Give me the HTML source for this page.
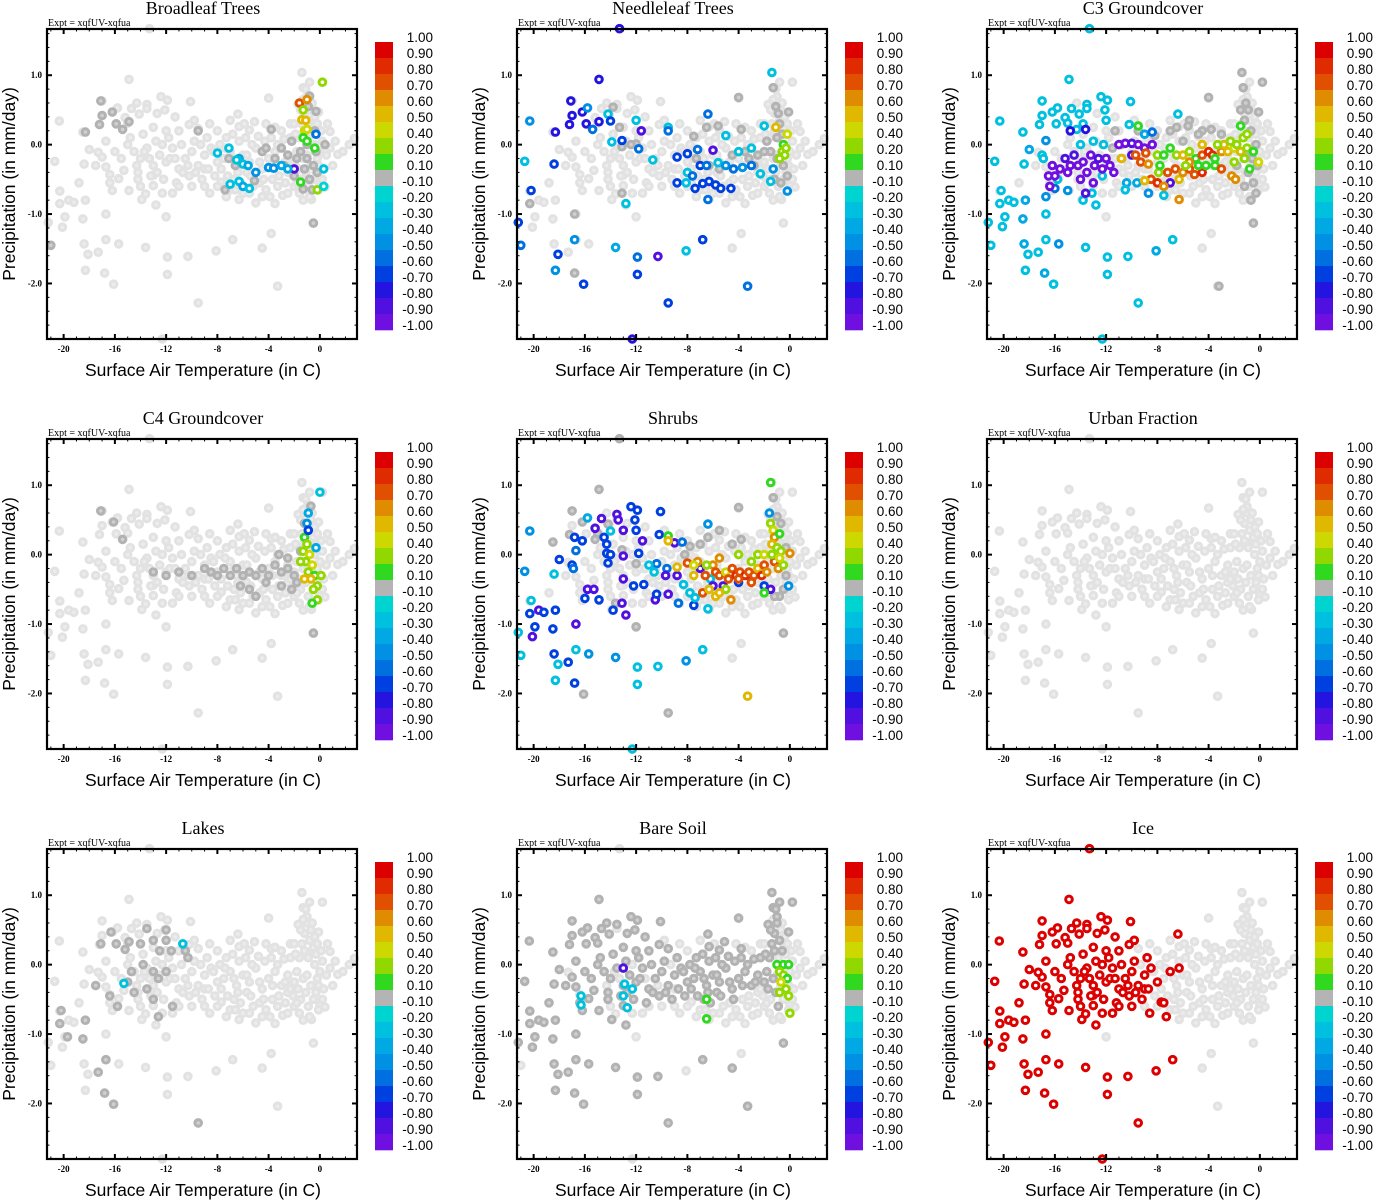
<!DOCTYPE html>
<html><head><meta charset="utf-8">
<style>
html,body{margin:0;padding:0;background:#fff;}
svg{display:block;}
.ttl{font-family:"Liberation Serif",serif;font-size:18px;}
.expt{font-family:"Liberation Serif",serif;font-size:10px;}
.tick{font-family:"Liberation Serif",serif;font-size:9px;font-weight:bold;}
.axt{font-family:"Liberation Sans",sans-serif;font-size:17.5px;}
.cbl{font-family:"Liberation Sans",sans-serif;font-size:13.5px;}
</style></head>
<body>
<svg id="fig" width="1373" height="1200" viewBox="0 0 1373 1200"></svg>
<script>
// ---------------- DATA ----------------
const panelTitles = ["Broadleaf Trees","Needleleaf Trees","C3 Groundcover","C4 Groundcover","Shrubs","Urban Fraction","Lakes","Bare Soil","Ice"];
const xTicks = [-20,-16,-12,-8,-4,0];
const yTicks = [1.0,0.0,-1.0,-2.0];
const yTickLabels = ["1.0","0.0","-1.0","-2.0"];
const cbLabels = ["1.00","0.90","0.80","0.70","0.60","0.50","0.40","0.20","0.10","-0.10","-0.20","-0.30","-0.40","-0.50","-0.60","-0.70","-0.80","-0.90","-1.00"];
const cbEdges = [1.0,0.9,0.8,0.7,0.6,0.5,0.4,0.2,0.1,-0.1,-0.2,-0.3,-0.4,-0.5,-0.6,-0.7,-0.8,-0.9,-1.0];
const cbColors = ["#dc0000","#e02a00","#e05000","#e08c00","#e0b800","#ccd800","#90d800","#30d820","#b4b4b4","#00d4d0","#00c0e0","#00a8e4","#0090e4","#0070e0","#0040e0","#2414e0","#5010e0","#7010e0"];

// base cloud (temperature, precipitation)
const baseCloud = [
[-20.34,0.34],[-20.7,-0.24],[-18.0,-0.07],[-18.5,0.18],[-18.4,-0.28],[-20.3,-0.67],[-20.3,-0.85],[-20.1,-1.19],[-19.9,-1.04],[-19.6,-0.8],[-19.2,-0.83],[-18.3,-0.8],[-18.5,-1.07],[-21.2,-1.12],[-21.0,-1.45],[-18.4,-1.43],[-18.1,-1.58],[-18.3,-1.81],[-17.3,-1.55],[-16.7,-1.37],[-16.7,-1.0],[-15.7,-1.43],[-16.8,-1.85],[-16.1,-2.01],[-13.6,-1.48],[-11.9,-1.62],[-11.9,-1.87],[-12.0,-1.04],[-10.3,-1.61],[-9.5,-2.28],[-8.1,-1.53],[-6.8,-1.37],[-4.5,-1.49],[-3.8,-1.28],[-3.3,-2.04],[-0.5,-1.13],[-13.3,1.67],[-12.3,-2.8],[-14.9,0.94],[-1.4,1.04],[0.2,0.9],[-1.3,0.82],[-17.0,0.63],[-17.0,0.42],[-17.2,0.29],[-16.2,0.47],[-15.8,0.53],[-15.9,0.3],[-14.7,0.52],[-15.2,0.39],[-15.0,0.31],[-14.1,0.44],[-13.5,0.58],[-13.5,0.52],[-12.4,0.69],[-11.9,0.64],[-12.1,0.5],[-10.1,0.62],[-10.2,0.29],[-9.5,0.23],[-6.4,0.44],[-6.3,0.26],[-5.5,0.21],[-5.1,0.33],[-4.0,0.67],[-3.8,0.23],[-1.7,0.58],[-1.0,0.69],[-0.1,0.47],[0.8,0.19],[1.4,-0.14],[2.3,0.0],[2.7,0.09],[0.0,-0.59],[0.4,-0.61],[-0.65,-0.79],[-3.5,-0.85],[-5.0,-0.84],[-2.9,-0.73],[-8.6,-0.7],[-7.3,-0.75],[-6.3,-0.79],[-7.7,-0.54],[-11.5,-0.7],[-12.3,-0.7],[-12.8,-0.87],[-13.9,-0.79],[-14.9,-0.66],[-13.6,-0.71],[-16.2,-0.66],[-16.4,-0.55],[-16.7,-0.32],[-17.0,-0.18],[-17.3,-0.11],[-16.7,0.05],[-16.4,-0.43],[-15.7,-0.49],[-15.3,-0.37],[-14.2,-0.5],[-13.0,-0.59],[-13.0,-0.44],
[-14.5,-0.1],[-14.0,-0.2],[-13.5,-0.05],[-13.0,-0.3],[-12.5,-0.15],[-12.0,-0.25],[-11.5,-0.05],[-11.0,-0.35],[-10.5,-0.2],[-10.0,-0.1],[-9.5,-0.3],[-9.0,-0.15],[-8.5,-0.05],[-8.0,-0.25],[-14.2,-0.4],[-13.2,-0.45],[-12.2,-0.5],[-11.2,-0.55],[-10.2,-0.45],[-9.2,-0.5],[-8.2,-0.45],[-14.8,0.1],[-13.8,0.15],[-12.8,0.05],[-11.8,0.1],[-10.8,0.0],[-9.8,0.05],[-8.8,0.1],[-7.8,0.0],
[-7.5,-0.2],[-7.0,-0.1],[-6.5,-0.3],[-6.0,-0.15],[-5.5,-0.25],[-5.0,-0.05],[-4.5,-0.35],[-4.0,-0.2],[-3.5,-0.1],[-3.0,-0.3],[-2.5,-0.15],[-2.0,-0.25],[-7.2,-0.45],[-6.7,-0.5],[-6.2,-0.55],[-5.7,-0.4],[-5.2,-0.6],[-4.7,-0.55],[-4.2,-0.65],[-3.7,-0.5],[-3.2,-0.45],[-2.7,-0.55],[-7.3,0.1],[-6.8,0.15],[-6.3,0.05],[-5.8,0.1],[-5.3,0.0],[-4.8,0.12],[-4.3,0.05],[-3.8,0.1],[-3.3,0.0],[-2.8,0.08],[-2.3,0.1],
[-1.8,-0.1],[-1.6,0.1],[-1.4,0.3],[-1.2,0.45],[-1.0,0.6],[-0.8,0.35],[-0.6,0.2],[-0.4,0.0],[-0.2,-0.2],[0.0,-0.1],[0.2,0.05],[-1.7,-0.35],[-1.5,-0.5],[-1.3,-0.2],[-1.1,-0.4],[-0.9,-0.6],[-0.7,-0.3],[-0.5,-0.5],[-0.3,-0.4],[-0.1,-0.3],[0.3,-0.35],[-1.5,0.5],[-1.2,0.2],[-0.9,0.1],[-0.7,0.5],[-0.5,0.25],[-1.9,0.15],[-2.1,-0.45],[0.5,-0.15],[0.8,-0.05],[-0.3,0.15],[-1.0,-0.15],
[-15.5,-0.2],[-15.0,0.0],[-14.0,-0.6],[-11.0,-0.6],[-10.0,-0.6],[-9.0,-0.35],[-9.0,-0.6],[-7.0,-0.65],[-6.0,-0.7],[-4.5,-0.75],[-2.5,-0.4],[-2.0,-0.6],[-3.0,0.2],[-8.0,0.2],[-11.0,0.2],[-12.0,0.2],[-13.0,0.25],[-16.0,-0.1],[-17.5,-0.3],[-18.8,-0.55],[1.0,-0.3],[-1.6,-0.7],[-2.3,0.3],
[-9.7,-0.4],[-10.7,-0.4],[-11.7,-0.2],[-12.7,-0.4],[-13.7,-0.1],[-8.7,-0.35],[-7.7,-0.35],[-6.7,-0.2],[-5.7,-0.15],[-4.7,-0.25],[-3.7,-0.3],[-2.7,-0.25],[-1.8,-0.55],[-2.3,-0.35],[-3.3,-0.6],[-4.4,-0.5],[-5.4,-0.45],[-6.4,-0.4],[-7.4,-0.05],[-8.3,-0.1],[-9.3,0.0],[-10.3,-0.3],[-11.3,-0.2],[-12.3,0.0],[-13.3,-0.2],[-14.3,-0.3],[-0.8,0.9],[-1.1,0.8],[-0.6,0.6],[-1.3,0.65],[-0.4,0.4],[-0.2,0.3],[0.1,0.2],[0.2,-0.5],[-0.1,-0.65],[-0.8,-0.75],[-1.3,-0.8],[-2.5,-0.7],[-3.9,-0.75],[-5.5,-0.7],[-6.6,-0.65],[-8.0,-0.6],[-2.0,0.3],[-3.5,0.25],[-4.2,0.3],[-5.9,0.3],[-7.0,0.35],[-8.6,0.3],[-9.8,0.35],[-11.3,0.4],[-12.7,0.45],[-14.3,0.6],[1.2,0.05],[1.8,-0.1],[0.6,0.3]
];

// per-panel dark-grey points (value between -0.1 and 0.1)
const greyBroadleaf = [[-18.3,0.18],[-17.1,0.63],[-16.2,0.47],[-17,0.42],[-17.2,0.29],[-15.9,0.3],[-15.4,0.22],[-14.9,0.33],[-9.5,0.2],[-3.8,0.22],[-21,-1.45],[-0.5,-1.13],[-7.4,-0.65],[-5.1,-0.52],[-7.1,-0.2],[-4.5,-0.1],[-1.5,-0.1],[-1.0,-0.2],[-0.5,-0.3],[-0.8,0.7],[-0.3,0.48],[-1.3,-0.64],[-0.2,-0.4],[-1.8,-0.2],[-2.5,-0.15],[-3.0,-0.05],[-2.2,0.05],[-0.8,-0.5],[-0.3,-0.1],[-1.0,0.0],[-1.2,-0.35],[0.4,0.0],[-3.5,-0.2],[-2.8,-0.3],[-6.6,-0.3],[-4.2,-0.05],[-0.6,-0.65],[-0.9,0.55],[-2.0,-0.45],[-0.4,0.2]];
const greyNeedleleaf = [[-13.8,0.54],[-13.3,0.25],[-13.1,-0.03],[-12.0,0.01],[-12.4,0.0],[-11.6,0.2],[-16.8,-1.0],[-16.8,-1.85],[-20.3,-0.85],[-13.1,-0.7],[-7.5,0.12],[-6.5,0.25],[-5.6,0.27],[-4.0,0.68],[-3.8,0.22],[-1.3,0.82],[-1.1,0.55],[-0.9,0.45],[-0.1,0.47],[-1.5,-0.1],[-1.0,-0.2],[-0.5,-0.3],[-0.8,0.3],[-1.2,-0.5],[-0.7,-0.55],[-2.5,-0.15],[-2.0,-0.1],[-3.2,-0.2],[-4.5,-0.15],[-5.5,-0.35],[-6.3,-0.3],[-7.3,-0.2],[-1.8,0.05],[-0.6,0.15],[-0.2,-0.45],[-1.0,0.1],[-2.8,-0.3],[-3.5,-0.1]];
const greyC3 = [[-11.3,0.2],[-9.5,0.2],[-7.0,0.2],[-6.5,0.25],[-5.5,0.35],[-5.6,0.27],[-4.0,0.68],[-3.8,0.22],[-1.4,1.04],[-1.3,0.82],[0.2,0.9],[-1.1,0.6],[-0.9,0.5],[-0.1,0.47],[-1.5,0.5],[-1.2,0.35],[-0.7,0.2],[-0.3,0.0],[-0.6,-0.2],[-0.9,-0.4],[-0.5,-0.55],[-1.2,-0.6],[-0.3,-0.7],[-0.5,-1.13],[-3.2,-2.04],[-0.7,-0.8],[-6.0,0.05],[-4.5,0.2],[-4.8,0.15],[-3.0,0.15],[-1.8,-0.3],[-1.0,-0.1],[-0.2,-0.3],[-8.2,0.13],[-10.8,0.0],[-11.5,-0.05]];
const greyC4 = [[-17.1,0.63],[-16.1,0.47],[-15.4,0.22],[-13.0,-0.25],[-12.0,-0.3],[-11.0,-0.25],[-10.0,-0.3],[-9.0,-0.2],[-8.5,-0.25],[-8.0,-0.3],[-7.5,-0.2],[-7.0,-0.3],[-6.5,-0.2],[-6.0,-0.3],[-5.5,-0.25],[-5.0,-0.3],[-4.5,-0.2],[-4.0,-0.3],[-3.5,-0.15],[-3.0,-0.25],[-2.5,-0.2],[-2.0,-0.3],[-5.5,-0.5],[-5.0,-0.6],[-4.2,-0.4],[-6.2,-0.45],[-0.5,-1.13],[-1.5,0.05],[-1.8,-0.4],[-2.5,-0.05],[-3.2,0.0],[-1.2,0.45],[-0.7,0.7],[-3.0,-0.45],[-2.2,-0.5]];
const greyShrubs = [[-17.0,0.63],[-16.2,0.47],[-17.2,0.29],[-18.5,0.18],[-15.0,0.31],[-14.9,0.94],[-15.2,0.22],[-13.3,1.67],[-14.2,0.44],[-13.1,0.07],[-12.0,-0.13],[-13.6,-0.7],[-12.0,-1.04],[-16.1,-2.01],[-9.5,-2.28],[-0.5,-1.13],[-4.0,0.68],[-1.3,0.82],[-1.0,0.55],[-0.7,0.45],[-3.8,0.22],[-4.5,0.15],[-5.5,0.35],[-6.4,0.25],[-7.0,0.15],[-7.8,0.12],[-8.2,0.0],[-0.3,-0.3],[-0.5,-0.5],[-0.8,-0.6],[-1.2,-0.6],[-0.3,0.1]];
const greyUrban = [];
const greyLakes = [[-17.1,0.3],[-16.3,0.47],[-15.9,0.3],[-15.2,0.22],[-14.9,0.33],[-13.5,0.52],[-13.0,0.35],[-12.0,0.5],[-12.0,0.35],[-12.5,0.2],[-13.8,0.0],[-13.0,-0.1],[-12.6,-0.2],[-12.0,-0.1],[-14.7,-0.1],[-15.0,-0.25],[-13.5,-0.35],[-14.5,-0.4],[-16.4,-0.45],[-15.8,-0.6],[-13.0,-0.5],[-12.6,-0.75],[-11.5,-0.6],[-17.5,-0.3],[-20.3,-0.85],[-20.2,-0.66],[-19.7,-1.04],[-18.3,-0.8],[-18.5,-1.07],[-17.3,-1.55],[-16.8,-1.85],[-16.1,-2.01],[-9.5,-2.28],[-10.5,0.2],[-10.3,0.1],[-16.7,-1.37],[-11.6,0.2],[-14.0,0.3]];
const greyBare = [[-20.34,0.34],[-20.7,-0.24],[-18.0,-0.07],[-18.5,0.18],[-18.4,-0.28],[-20.3,-0.67],[-20.3,-0.85],[-20.1,-1.19],[-19.9,-1.04],[-19.6,-0.8],[-19.2,-0.83],[-18.3,-0.8],[-18.5,-1.07],[-21.2,-1.12],[-18.4,-1.43],[-18.1,-1.58],[-18.3,-1.81],[-17.3,-1.55],[-16.7,-1.37],[-16.7,-1.0],[-15.7,-1.43],[-16.8,-1.85],[-16.1,-2.01],[-13.6,-1.48],[-11.9,-1.62],[-11.9,-1.87],[-10.3,-1.61],[-9.5,-2.28],[-6.8,-1.37],[-4.5,-1.49],[-3.3,-2.04],[-0.5,-1.13],[-14.9,0.94],[-1.4,1.04],[0.2,0.9],[-1.3,0.82],[-17.0,0.63],[-17.0,0.42],[-17.2,0.29],[-16.2,0.47],[-15.8,0.53],[-15.9,0.3],[-14.7,0.52],[-15.2,0.39],[-15.0,0.31],[-14.1,0.44],[-13.5,0.58],[-12.4,0.69],[-11.9,0.64],[-12.1,0.5],[-10.1,0.62],[-10.2,0.29],[-9.5,0.23],[-6.4,0.44],[-6.3,0.26],[-5.5,0.21],[-5.1,0.33],[-4.0,0.67],[-3.8,0.23],[-1.7,0.58],[-1.0,0.69],[-0.1,0.47],[-12.8,-0.87],[-13.9,-0.79],[-14.9,-0.66],[-16.2,-0.66],[-16.4,-0.55],[-16.7,-0.32],[-17.0,-0.18],[-16.7,0.05],[-15.7,-0.49],[-15.3,-0.37],[-14.2,-0.5],[-13.0,-0.59],[-14.5,-0.1],[-14.0,-0.2],[-13.5,-0.05],[-13.0,-0.3],[-12.5,-0.15],[-12.0,-0.25],[-11.5,-0.05],[-11.0,-0.35],[-10.5,-0.2],[-10.0,-0.1],[-9.5,-0.3],[-9.0,-0.15],[-8.5,-0.05],[-8.0,-0.25],[-14.2,-0.4],[-13.2,-0.45],[-12.2,-0.5],[-11.2,-0.55],[-10.2,-0.45],[-9.2,-0.5],[-8.2,-0.45],[-14.8,0.1],[-13.8,0.15],[-12.8,0.05],[-11.8,0.1],[-10.8,0.0],[-9.8,0.05],[-8.8,0.1],[-7.8,0.0],[-7.5,-0.2],[-7.0,-0.1],[-6.5,-0.3],[-6.0,-0.15],[-5.5,-0.25],[-5.0,-0.05],[-4.5,-0.35],[-4.0,-0.2],[-3.5,-0.1],[-3.0,-0.3],[-2.5,-0.15],[-2.0,-0.25],[-7.2,-0.45],[-6.7,-0.5],[-6.2,-0.55],[-5.7,-0.4],[-7.3,0.1],[-6.8,0.15],[-6.3,0.05],[-5.8,0.1],[-5.3,0.0],[-4.8,0.12],[-4.3,0.05],[-3.8,0.1],[-3.3,0.0],[-2.8,0.08],[-2.3,0.1],[-1.8,-0.1],[-1.6,0.1],[-1.4,0.3],[-1.2,0.45],[-1.0,0.6],[-0.8,0.35],[-0.6,0.2],[-1.5,0.5],[-1.2,0.2],[-1.9,0.15],[-1.7,-0.35],[-1.3,-0.2],[-1.1,-0.4],[-0.9,-0.6],[-15.5,-0.2],[-15.0,0.0],[-11.0,0.2],[-12.0,0.2],[-13.0,0.25],[-16.0,-0.1],[-17.5,-0.3],[-18.8,-0.55],[-9.7,-0.4],[-10.7,-0.4],[-11.7,-0.2],[-12.7,-0.4],[-8.7,-0.35],[-7.7,-0.35],[-6.7,-0.2],[-5.7,-0.15],[-4.7,-0.25],[-3.7,-0.3],[-2.7,-0.25],[-4.4,-0.5],[-5.4,-0.45],[-6.4,-0.4],[-7.4,-0.05],[-8.3,-0.1],[-11.3,0.4],[-12.7,0.45],[-14.3,0.6],[-0.8,0.9],[-1.1,0.8]];
const greyIce = [];

// per-panel coloured points (temperature, precipitation, value)
const colBroadleaf = [[0.2,0.9,0.25],[-1.6,0.6,0.75],[-1.0,0.65,0.65],[-1.3,0.5,0.3],[-1.4,0.36,0.55],[-1.1,0.35,0.5],[-1.2,0.2,0.45],[-1.0,0.22,0.4],[-1.3,0.1,0.15],[-1.0,0.05,0.15],[-0.4,-0.05,0.15],[-0.3,0.15,-0.55],[-1.5,-0.54,0.15],[-0.2,-0.65,0.3],[0.3,-0.6,-0.2],[0.3,-0.35,-0.25],[-2.0,-0.35,-0.85],[-8.0,-0.12,-0.25],[-7.1,-0.05,-0.3],[-6.3,-0.2,-0.35],[-6.0,-0.28,-0.3],[-5.6,-0.3,-0.4],[-5.0,-0.4,-0.45],[-4.0,-0.33,-0.45],[-3.6,-0.34,-0.5],[-2.5,-0.35,-0.4],[-7.0,-0.57,-0.25],[-6.3,-0.53,-0.3],[-6.0,-0.6,-0.35],[-5.5,-0.63,-0.3],[-6.5,-0.22,-0.3],[-3.0,-0.3,-0.35]];
const colNeedleleaf = [[-13.3,1.67,-0.8],[-14.9,0.94,-0.8],[-17.1,0.63,-0.8],[-17,0.42,-0.8],[-17.2,0.29,-0.8],[-16.2,0.47,-0.8],[-15.9,0.3,-0.8],[-15.8,0.53,-0.5],[-15.4,0.22,-0.6],[-14.9,0.33,-0.8],[-14.2,0.44,-0.25],[-14.0,0.34,-0.7],[-13.9,0.04,-0.25],[-13.1,0.06,-0.7],[-12.0,0.35,-0.3],[-11.6,0.2,-0.9],[-11.8,-0.06,-0.6],[-18.3,0.18,-0.8],[-18.4,-0.28,-0.7],[-20.3,0.34,-0.5],[-20.7,-0.24,-0.3],[-20.2,-0.66,-0.7],[-21.2,-1.12,-0.7],[-21.0,-1.45,-0.6],[-18.1,-1.58,-0.7],[-18.3,-1.81,-0.5],[-16.8,-1.37,-0.5],[-16.1,-2.01,-0.7],[-13.6,-1.48,-0.35],[-11.9,-1.62,-0.6],[-11.9,-1.87,-0.7],[-10.3,-1.61,-0.85],[-9.5,-2.28,-0.7],[-8.1,-1.53,-0.3],[-6.8,-1.37,-0.7],[-3.3,-2.04,-0.6],[-12.3,-2.8,-0.8],[-12.8,-0.85,-0.25],[-10.7,-0.22,-0.25],[-9.5,0.25,-0.3],[-9.5,0.2,-0.55],[-8.8,-0.18,-0.7],[-8.0,-0.13,-0.7],[-8.0,-0.4,-0.3],[-7.2,-0.07,-0.6],[-6.4,0.44,-0.6],[-6.0,-0.08,-0.9],[-7.4,-0.63,-0.7],[-6.8,-0.56,-0.7],[-6.3,-0.53,-0.7],[-6.4,-0.79,-0.6],[-5.8,-0.58,-0.7],[-5.4,-0.63,-0.7],[-4.6,-0.63,-0.7],[-8.8,-0.55,-0.7],[-8.1,-0.55,-0.3],[-7.6,-0.45,-0.55],[-7.0,-0.3,-0.7],[-6.5,-0.3,-0.6],[-5.0,0.13,-0.3],[-5.6,-0.26,-0.3],[-5.0,-0.3,-0.5],[-4.4,-0.35,-0.6],[-3.7,-0.33,-0.5],[-3.0,-0.3,-0.6],[-2.3,-0.42,-0.3],[-1.3,-0.35,-0.5],[-1.5,-0.53,-0.25],[-0.2,-0.67,-0.5],[-1.4,1.04,-0.25],[-2.0,0.27,-0.25],[-1.1,0.25,0.55],[-0.2,0.15,0.45],[-0.5,0.0,0.15],[-0.6,-0.1,0.3],[-0.4,-0.15,0.35],[-0.8,-0.2,0.3],[-0.3,-0.05,0.2],[-3.0,-0.05,-0.25],[-4.0,-0.1,-0.3]];
const colC3 = [[-20.3,0.34,-0.25],[-20.7,-0.24,-0.25],[-20.2,-0.66,-0.25],[-20.3,-0.85,-0.25],[-20.1,-1.18,-0.25],[-19.9,-1.04,-0.25],[-19.6,-0.8,-0.25],[-19.2,-0.83,-0.25],[-18.3,-0.8,-0.35],[-18.5,-1.07,-0.35],[-21.2,-1.12,-0.25],[-21.0,-1.45,-0.25],[-18.4,-1.43,-0.35],[-18.1,-1.58,-0.25],[-18.3,-1.81,-0.25],[-17.3,-1.55,-0.3],[-16.7,-1.37,-0.3],[-16.7,-1.0,-0.3],[-15.7,-1.43,-0.45],[-16.8,-1.85,-0.35],[-16.1,-2.01,-0.25],[-13.6,-1.48,-0.3],[-11.9,-1.62,-0.25],[-11.9,-1.87,-0.25],[-10.3,-1.61,-0.25],[-9.5,-2.28,-0.25],[-8.1,-1.53,-0.35],[-6.8,-1.37,-0.25],[-12.3,-2.8,-0.25],[-13.3,1.67,-0.25],[-14.9,0.94,-0.25],[-18.5,0.18,-0.3],[-18.0,-0.07,-0.4],[-18.4,-0.28,-0.25],[-17.0,0.63,-0.25],[-17.0,0.42,-0.25],[-17.2,0.29,-0.25],[-16.2,0.47,-0.3],[-15.8,0.53,-0.25],[-15.9,0.3,-0.25],[-16.7,0.06,-0.45],[-17.0,-0.15,-0.25],[-16.9,-0.2,-0.25],[-14.7,0.52,-0.25],[-15.2,0.39,-0.3],[-15.0,0.31,-0.25],[-14.1,0.44,-0.25],[-13.5,0.58,-0.3],[-13.5,0.52,-0.3],[-12.4,0.69,-0.25],[-11.9,0.64,-0.3],[-12.1,0.5,-0.3],[-10.1,0.62,-0.3],[-10.2,0.29,-0.3],[-12.0,0.35,-0.25],[-13.8,0.3,-0.25],[-14.3,0.22,-0.3],[-13.0,0.05,-0.3],[-14.0,0.0,-0.3],[-12.2,0.0,-0.25],[-16.7,-0.75,-0.5],[-16.0,-0.63,-0.6],[-15.0,-0.66,-0.5],[-13.8,-0.8,-0.3],[-13.1,-0.7,-0.25],[-12.8,-0.87,-0.3],[-10.4,-0.55,-0.4],[-10.5,-0.65,-0.3],[-9.6,-0.55,-0.4],[-8.7,-0.7,-0.45],[-7.5,-0.73,-0.3],[-6.4,0.44,-0.25],[-15.8,-0.5,-0.25],[-12.3,-0.45,-0.25],[-9.0,0.15,-0.4],[-8.4,0.18,-0.6],
[-16.2,-0.3,-0.95],[-16.0,-0.45,-0.95],[-15.6,-0.35,-0.95],[-15.2,-0.2,-0.9],[-14.8,-0.3,-0.95],[-14.5,-0.15,-0.9],[-14.2,-0.3,-0.95],[-13.8,-0.25,-0.95],[-13.5,-0.4,-0.95],[-13.2,-0.15,-0.95],[-12.9,-0.3,-0.95],[-12.6,-0.2,-0.9],[-12.3,-0.35,-0.95],[-12.0,-0.2,-0.95],[-11.7,-0.3,-0.95],[-11.4,-0.4,-0.95],[-13.0,-0.55,-0.95],[-14.0,-0.5,-0.95],[-15.0,-0.4,-0.95],[-16.5,-0.45,-0.95],[-16.4,-0.6,-0.95],[-13.6,-0.7,-0.9],[-11.0,0.0,-0.95],[-10.5,0.02,-0.95],[-10.0,0.02,-0.9],[-9.5,0.0,-0.95],[-9.0,-0.05,-0.95],[-8.4,0.0,-0.95],[-10.8,-0.2,-0.95],[-10.0,-0.15,-0.9],[-7.0,-0.55,-0.9],[-14.8,0.2,-0.75],[-13.6,0.22,-0.8],
[-9.5,0.27,0.15],[-8.9,-0.12,0.75],[-9.7,-0.15,0.7],[-10.8,-0.2,0.5],[-9.3,-0.25,0.75],[-8.7,-0.28,0.65],[-7.9,-0.4,0.3],[-8.5,-0.5,0.7],[-8.0,-0.55,0.8],[-9.0,-0.52,0.5],[-7.5,-0.6,0.6],[-7.2,-0.4,0.75],[-6.6,-0.35,0.75],[-6.3,-0.5,0.55],[-6.0,-0.4,0.6],[-6.3,-0.79,0.6],[-5.5,-0.35,0.75],[-5.1,-0.43,0.75],[-4.5,-0.4,0.8],[-8.0,-0.15,0.2],[-7.5,-0.15,0.1],[-7.0,-0.05,0.15],[-6.5,-0.15,0.35],[-6.0,-0.15,0.5],[-5.5,-0.1,0.3],[-5.0,-0.2,0.15],[-4.5,-0.15,0.75],[-4.0,-0.1,0.85],[-3.7,-0.15,0.85],[-3.5,-0.3,0.15],[-3.0,-0.1,0.65],[-2.5,-0.1,0.55],[-2.0,-0.05,0.45],[-1.5,-0.1,0.55],[-1.0,-0.05,0.3],[-0.5,-0.1,0.15],[-2.8,0.0,0.5],[-2.3,0.05,0.3],[-1.8,0.0,0.25],[-1.3,0.1,0.3],[-1.5,0.27,0.15],[-4.2,-0.3,0.15],[-4.8,-0.3,0.15],[-5.5,-0.25,0.6],[-3.0,-0.35,0.75],[-2.2,-0.45,0.65],[-1.9,-0.5,0.6],[-2.0,-0.25,0.2],[-1.2,-0.2,0.35],[-0.1,-0.25,0.45],[-3.5,-0.2,0.15],[-5.8,-0.3,0.2],[-7.8,-0.3,0.15],[-3.3,0.0,0.25],[-4.5,0.0,0.5],[-1.0,0.15,0.3],[-0.8,-0.35,0.15]];
const colC4 = [[0.0,0.9,-0.3],[-0.9,0.6,-0.35],[-1.0,0.45,-0.5],[-1.2,0.25,0.15],[-1.0,0.15,0.25],[-1.3,0.05,0.3],[-0.8,0.0,0.4],[-1.1,-0.1,0.35],[-0.6,-0.15,0.45],[-0.9,-0.25,0.3],[-0.4,-0.3,0.15],[-0.7,-0.35,0.5],[-0.2,-0.45,0.35],[-0.5,-0.5,0.25],[-0.2,-0.65,0.3],[-0.6,-0.7,0.15],[-1.5,-0.1,0.2],[-0.3,0.1,-0.4],[-1.2,-0.35,0.55],[0.1,-0.3,0.3],[-0.9,0.35,-0.7]];
const colShrubs = [[-20.3,0.34,-0.5],[-20.7,-0.24,-0.5],[-20.2,-0.66,-0.3],[-20.3,-0.85,-0.7],[-20.1,-1.18,-0.85],[-19.9,-1.04,-0.7],[-19.6,-0.8,-0.85],[-19.2,-0.83,-0.7],[-18.3,-0.8,-0.7],[-18.5,-1.07,-0.7],[-21.2,-1.12,-0.25],[-21.0,-1.45,-0.25],[-18.4,-1.43,-0.7],[-18.1,-1.58,-0.25],[-18.3,-1.81,-0.25],[-17.3,-1.55,-0.7],[-16.7,-1.37,-0.25],[-16.7,-1.0,-0.85],[-15.7,-1.43,-0.5],[-16.8,-1.85,-0.7],[-13.6,-1.48,-0.5],[-11.9,-1.62,-0.25],[-11.9,-1.87,-0.25],[-10.3,-1.61,-0.25],[-8.1,-1.53,-0.5],[-6.8,-1.37,-0.25],[-12.3,-2.8,-0.25],[-3.3,-2.04,0.55],[-18.4,-0.28,-0.25],[-18.0,-0.07,-0.7],[-16.7,0.06,-0.6],[-17.0,-0.15,-0.7],[-16.9,-0.2,-0.6],[-16.8,0.25,-0.7],[-15.8,0.53,-0.4],[-16.2,0.2,-0.7],[-14.7,0.52,-0.85],[-15.2,0.38,-0.85],[-14.5,0.25,-0.7],[-14.3,0.15,-0.7],[-14.0,0.34,-0.3],[-13.5,0.58,-0.85],[-13.4,0.5,-0.85],[-13.0,0.35,-0.85],[-12.4,0.69,-0.7],[-11.9,0.64,-0.7],[-12.1,0.5,-0.7],[-12.0,0.35,-0.7],[-10.1,0.62,-0.7],[-10.2,0.29,-0.7],[-14.3,0.02,-0.7],[-14.0,0.0,-0.7],[-13.0,-0.02,-0.85],[-11.8,0.02,-0.7],[-11.5,0.2,-0.85],[-14.2,-0.12,-0.7],[-13.0,-0.35,-0.85],[-12.2,-0.45,-0.7],[-11.4,-0.43,-0.7],[-15.8,-0.5,-0.85],[-15.3,-0.5,-0.85],[-16.0,-0.63,-0.7],[-14.9,-0.65,-0.7],[-13.8,-0.8,-0.7],[-13.1,-0.7,-0.85],[-12.8,-0.87,-0.85],[-10.5,-0.65,-0.85],[-10.4,-0.57,-0.7],[-9.5,-0.57,-0.85],[-8.7,-0.7,-0.6],[-7.5,-0.73,-0.7],[-6.4,0.44,-0.5],[-6.4,-0.78,-0.25],[-9.6,-0.2,-0.6],[-9.0,0.17,-0.85],[-8.4,0.18,-0.6],[-9.7,-0.3,-0.85],[-8.8,-0.3,-0.85],[-10.4,-0.13,-0.6],[-10.6,-0.25,-0.3],[-11.0,-0.15,-0.3],[-7.0,-0.2,-0.85],[-6.2,-0.35,-0.3],[-6.0,-0.45,-0.85],[-5.2,-0.45,-0.85],[-4.0,-0.4,-0.7],[-3.0,-0.35,-0.85],[-2.0,-0.45,-0.7],[-1.5,-0.5,-0.85],[-1.6,0.6,-0.5],[-0.1,-0.45,-0.5],[-2.5,-0.25,-0.3],[-7.8,-0.55,-0.3],[-8.3,-0.43,-0.3],[-7.4,-0.62,-0.25],
[-9.5,0.27,0.15],[-9.5,0.2,0.55],[-8.8,-0.18,0.5],[-8.0,-0.12,0.75],[-7.5,-0.3,0.55],[-7.2,-0.1,0.6],[-6.6,-0.3,0.75],[-6.8,-0.55,0.75],[-6.3,-0.5,0.5],[-6.0,-0.15,0.6],[-5.8,-0.25,0.75],[-5.5,-0.3,0.75],[-5.5,-0.05,0.6],[-5.0,-0.25,0.45],[-5.0,-0.5,0.25],[-4.8,-0.35,0.75],[-4.5,-0.2,0.75],[-4.2,-0.3,0.8],[-3.9,-0.25,0.75],[-3.5,-0.3,0.8],[-3.2,-0.25,0.75],[-2.8,-0.3,0.75],[-2.5,-0.2,0.5],[-2.2,-0.3,0.8],[-2.0,-0.15,0.75],[-1.8,-0.25,0.6],[-5.8,-0.6,0.5],[-5.5,-0.55,0.55],[-4.6,-0.65,0.65],[-3.0,-0.1,0.35],[-2.5,0.0,0.3],[-2.0,0.0,0.45],[-4.0,0.0,0.3],[-6.5,-0.15,0.35],[-7.5,-0.15,0.45],[-1.5,0.45,0.3],[-1.3,0.35,0.45],[-1.2,0.25,0.65],[-1.4,0.15,0.5],[-1.0,0.1,0.3],[-0.8,0.3,0.15],[-1.1,-0.05,0.3],[-1.2,-0.1,0.75],[-0.9,-0.2,0.65],[-0.5,-0.15,0.3],[-0.7,0.05,0.35],[-1.5,1.04,0.15],[-1.4,0.0,0.3],[-0.8,-0.05,0.45],[0.0,0.02,0.6],[-2.0,-0.55,0.15],[-4.0,-0.35,0.75],[-3.0,-0.4,0.75]];
const colUrban = [];
const colLakes = [[-10.7,0.3,-0.25],[-15.3,-0.27,-0.3]];
const colBare = [[-1.0,0.0,0.15],[-0.5,0.0,0.15],[-0.1,0.0,0.15],[-0.8,-0.1,0.3],[-0.5,-0.15,0.2],[-0.2,-0.2,0.15],[-0.7,-0.25,0.4],[-0.3,-0.35,0.3],[-0.1,-0.45,0.25],[-0.8,-0.4,0.35],[0.0,-0.7,0.3],[-6.5,-0.5,0.15],[-6.5,-0.78,0.15],[-16.3,-0.45,-0.25],[-16.3,-0.58,-0.25],[-13.0,-0.45,-0.25],[-12.7,-0.62,-0.25],[-12.3,-0.35,-0.25],[-12.9,-0.28,-0.3],[-13.0,-0.05,-0.85]];
const colIce = [[-13.3,1.67,0.95],[-12.3,-2.8,0.95],[-14.9,0.94,0.95],[-20.34,0.34,0.95],[-20.7,-0.24,0.95],[-18.5,0.18,0.95],[-18.4,-0.28,0.95],[-18.0,-0.07,0.95],[-20.3,-0.67,0.95],[-20.3,-0.85,0.95],[-20.1,-1.19,0.95],[-19.9,-1.04,0.95],[-19.6,-0.8,0.95],[-19.2,-0.83,0.95],[-18.3,-0.8,0.95],[-18.5,-1.07,0.95],[-21.2,-1.12,0.95],[-21.0,-1.45,0.95],[-18.4,-1.43,0.95],[-18.1,-1.58,0.95],[-18.3,-1.81,0.95],[-17.3,-1.55,0.95],[-16.7,-1.37,0.95],[-16.7,-1.0,0.95],[-15.7,-1.43,0.95],[-16.8,-1.85,0.95],[-16.1,-2.01,0.95],[-13.6,-1.48,0.95],[-11.9,-1.62,0.95],[-11.9,-1.87,0.95],[-10.3,-1.61,0.95],[-9.5,-2.28,0.95],[-8.1,-1.53,0.95],[-6.8,-1.37,0.95],[-17.0,0.63,0.95],[-17.0,0.42,0.95],[-17.2,0.29,0.95],[-16.2,0.47,0.95],[-15.8,0.53,0.95],[-15.9,0.3,0.95],[-14.7,0.52,0.95],[-15.2,0.39,0.95],[-15.0,0.31,0.95],[-14.1,0.44,0.95],[-13.5,0.58,0.95],[-13.5,0.52,0.95],[-12.4,0.69,0.95],[-11.9,0.64,0.95],[-12.1,0.5,0.95],[-10.1,0.62,0.95],[-10.2,0.29,0.95],[-6.4,0.44,0.95],[-16.2,-0.66,0.95],[-16.4,-0.55,0.95],[-16.7,-0.32,0.95],[-17.0,-0.18,0.95],[-17.3,-0.11,0.95],[-16.7,0.05,0.95],[-16.4,-0.43,0.95],[-15.7,-0.49,0.95],[-15.3,-0.37,0.95],[-14.2,-0.5,0.95],[-13.0,-0.59,0.95],[-13.0,-0.44,0.95],[-14.9,-0.66,0.95],[-13.9,-0.79,0.95],[-13.6,-0.71,0.95],[-12.8,-0.87,0.95],[-12.3,-0.7,0.95],[-11.5,-0.7,0.95],[-8.6,-0.7,0.95],[-7.3,-0.75,0.95],[-7.7,-0.54,0.95],[-14.5,-0.1,0.95],[-14.0,-0.2,0.95],[-13.5,-0.05,0.95],[-13.0,-0.3,0.95],[-12.5,-0.15,0.95],[-12.0,-0.25,0.95],[-11.5,-0.05,0.95],[-11.0,-0.35,0.95],[-10.5,-0.2,0.95],[-10.0,-0.1,0.95],[-9.5,-0.3,0.95],[-9.0,-0.15,0.95],[-8.5,-0.05,0.95],[-8.0,-0.25,0.95],[-14.2,-0.4,0.95],[-13.2,-0.45,0.95],[-12.2,-0.5,0.95],[-11.2,-0.55,0.95],[-10.2,-0.45,0.95],[-9.2,-0.5,0.95],[-14.8,0.1,0.95],[-13.8,0.15,0.95],[-12.8,0.05,0.95],[-11.8,0.1,0.95],[-10.8,0.0,0.95],[-9.8,0.05,0.95],[-8.8,0.1,0.95],[-7.0,-0.1,0.95],[-15.5,-0.2,0.95],[-15.0,0.0,0.95],[-14.0,-0.6,0.95],[-11.0,-0.6,0.95],[-10.0,-0.6,0.95],[-9.0,-0.35,0.95],[-11.0,0.2,0.95],[-12.0,0.2,0.95],[-13.0,0.25,0.95],[-16.0,-0.1,0.95],[-17.5,-0.3,0.95],[-18.8,-0.55,0.95],[-7.5,-0.55,0.95],[-6.3,-0.05,0.95],[-9.7,-0.4,0.95],[-10.7,-0.4,0.95],[-11.7,-0.2,0.95],[-12.7,-0.4,0.95],[-13.7,-0.1,0.95],[-8.7,-0.35,0.95],[-10.3,-0.3,0.95],[-11.3,-0.2,0.95],[-12.3,0.0,0.95],[-13.3,-0.2,0.95],[-14.3,-0.3,0.95],[-9.8,0.35,0.95],[-11.3,0.4,0.95],[-12.7,0.45,0.95],[-14.3,0.6,0.95]];

const greyLists = [greyBroadleaf,greyNeedleleaf,greyC3,greyC4,greyShrubs,greyUrban,greyLakes,greyBare,greyIce];
const colLists = [colBroadleaf,colNeedleleaf,colC3,colC4,colShrubs,colUrban,colLakes,colBare,colIce];

// ---------------- DRAWING ----------------
const NS = "http://www.w3.org/2000/svg";
const svg = document.getElementById("fig");
const X0 = 47, X1 = 357, Y0 = 29, Y1 = 339;
const TMIN = -21.3, TMAX = 2.9, PMIN = -2.8, PMAX = 1.666;
function xs(t){ return X0 + (t - TMIN) / (TMAX - TMIN) * (X1 - X0); }
function ys(p){ return Y1 - (p - PMIN) / (PMAX - PMIN) * (Y1 - Y0); }
function colorFor(v){
  for (let i = 0; i < cbColors.length; i++) {
    if (v <= cbEdges[i] && v >= cbEdges[i+1]) return cbColors[i];
  }
  return v > 0 ? cbColors[0] : cbColors[cbColors.length-1];
}
function mk(tag, attrs, parent){
  const e = document.createElementNS(NS, tag);
  for (const k in attrs) e.setAttribute(k, attrs[k]);
  parent.appendChild(e);
  return e;
}
function ring(g, t, p, col, inner){
  const c = mk("circle", {cx: xs(t).toFixed(1), cy: ys(p).toFixed(1), r: 3.3, fill: inner, stroke: col, "stroke-width": 3}, g);
  
  
}

panelTitles.forEach((title, idx) => {
  const ox = (idx % 3) * 470, oy = Math.floor(idx / 3) * 410;
  const g = mk("g", {transform: `translate(${ox},${oy})`}, svg);
  
  

  const tt = mk("text", {x: 203, y: 14, "text-anchor": "middle", class: "ttl"}, g);
  tt.textContent = title;
  
  

  const ex = mk("text", {x: 48, y: 26, class: "expt"}, g);
  ex.textContent = "Expt = xqfUV-xqfua";
  
  

  const pts = mk("g", {}, g);
  
  
  baseCloud.forEach(d => ring(pts, d[0], d[1], "#e2e2e2", "#ececec"));
  greyLists[idx].forEach(d => ring(pts, d[0], d[1], "#b2b2b2", "#d0d0d0"));
  colLists[idx].forEach(d => ring(pts, d[0], d[1], colorFor(d[2]), "#ffffff"));

  const tk = mk("g", {stroke: "#000", "stroke-width": 1}, g);
  
  
  for (let t = -21; t <= 2; t++) {
    const major = (t % 4 === 0);
    const L = major ? 5 : 2.5;
    const x = xs(t);
    mk("line", {x1: x, x2: x, y1: Y1, y2: Y1 - L, "stroke-width": major ? 2 : 1}, tk);
    mk("line", {x1: x, x2: x, y1: Y0, y2: Y0 + L, "stroke-width": major ? 2 : 1}, tk);
  }
  for (let k = -14; k <= 8; k++) {
    const p = k * 0.2;
    const major = (k % 5 === 0);
    const L = major ? 5 : 2.5;
    const y = ys(p);
    mk("line", {x1: X0, x2: X0 + L, y1: y, y2: y, "stroke-width": major ? 2 : 1}, tk);
    mk("line", {x1: X1, x2: X1 - L, y1: y, y2: y, "stroke-width": major ? 2 : 1}, tk);
  }
  const fr = mk("rect", {x: X0, y: Y0, width: X1 - X0, height: Y1 - Y0, fill: "none", stroke: "#000", "stroke-width": 2.2}, g);
  
  

  xTicks.forEach(t => {
    const l = mk("text", {x: xs(t), y: 352, "text-anchor": "middle", class: "tick"}, g);
    l.textContent = String(t);
    
    
  });
  yTicks.forEach((p, i) => {
    const l = mk("text", {x: 42, y: ys(p) + 3, "text-anchor": "end", class: "tick"}, g);
    l.textContent = yTickLabels[i];
    
    
  });

  const xt = mk("text", {x: 203, y: 376, "text-anchor": "middle", class: "axt"}, g);
  xt.textContent = "Surface Air Temperature (in C)";
  
  
  const yt = mk("text", {x: 0, y: 0, "text-anchor": "middle", class: "axt", transform: "translate(15,184) rotate(-90)"}, g);
  yt.textContent = "Precipitation (in mm/day)";
  
  

  const cb = mk("g", {}, g);
  
  
  cbColors.forEach((c, i) => {
    const r = mk("rect", {x: 375, y: 42 + i * 16, width: 18, height: 16.3, fill: c}, cb);
    
    
  });
  cbLabels.forEach((s, i) => {
    const l = mk("text", {x: 433, y: 42 + i * 16, "text-anchor": "end", class: "cbl"}, cb);
    l.textContent = s;
    
    
  });
});
</script>
</body></html>
